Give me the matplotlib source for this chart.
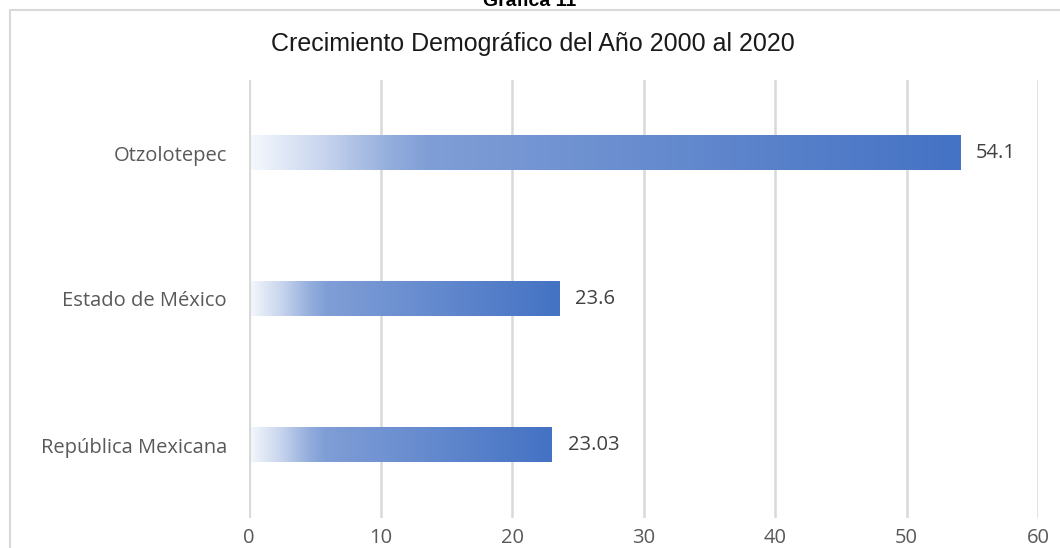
import numpy as np
import matplotlib.pyplot as plt
from matplotlib.colors import LinearSegmentedColormap
from matplotlib.patches import Rectangle

categories = ["República Mexicana", "Estado de México", "Otzolotepec"]
values = [23.03, 23.6, 54.1]
value_labels = ["23.03", "23.6", "54.1"]
xticks = [0, 10, 20, 30, 40, 50, 60]

gray = "#595959"
grid = "#D9D9D9"
cmap = LinearSegmentedColormap.from_list(
    "grad", [(0.0, "#F5F8FD"), (0.1, "#C9D6EE"), (0.2, "#92ACDC"),
             (0.25, "#809ED6"), (1.0, "#4472C4")])

fig = plt.figure(figsize=(10.6, 5.48), dpi=100)
ax = fig.add_axes([249/1060, 1-518/548, (1038-249)/1060, (518-80)/548])

# outer chart border (clipped at right/bottom like the source)
fig.patches.append(Rectangle((10/1060, -0.1), 1.2, 1-10/548+0.1, transform=fig.transFigure,
                             fill=False, ec=grid, lw=1.5))
fig.text(530/1060, 1-6/548, "Gráfica 11", ha="center", va="baseline",
         fontsize=14, fontweight="bold", family="Liberation Sans")
fig.text(533/1060, 1-44/548, "Crecimiento Demográfico del Año 2000 al 2020",
         ha="center", va="center", fontsize=18, family="Liberation Sans",
         color="#1a1a1a")

h = 0.235
grad = np.linspace(0, 1, 256).reshape(1, -1)
for i, v in enumerate(values):
    ax.imshow(grad, cmap=cmap, aspect="auto", extent=(0, v, i - h/2, i + h/2),
              zorder=2, interpolation="bicubic")
    ax.text(v + 1.2, i, value_labels[i], va="center", ha="left",
            fontsize=14.5, color="#404040", family="Open Sans")

ax.set_xlim(0, 60)
ax.set_ylim(-0.5, 2.5)
ax.set_xticks(xticks)
ax.set_yticks(range(len(categories)))
ax.set_yticklabels(categories)
for x in xticks:
    ax.axvline(x, color=grid, lw=3 if x == 0 else 1.8, zorder=1 if x else 3)
for s in ax.spines.values():
    s.set_visible(False)
ax.tick_params(length=0, labelsize=14.5, colors=gray)
ax.tick_params(axis="y", pad=16)
ax.tick_params(axis="x", pad=7)
for lab in ax.get_xticklabels() + ax.get_yticklabels():
    lab.set_family("Open Sans")

fig.savefig("out.png", dpi=100)
